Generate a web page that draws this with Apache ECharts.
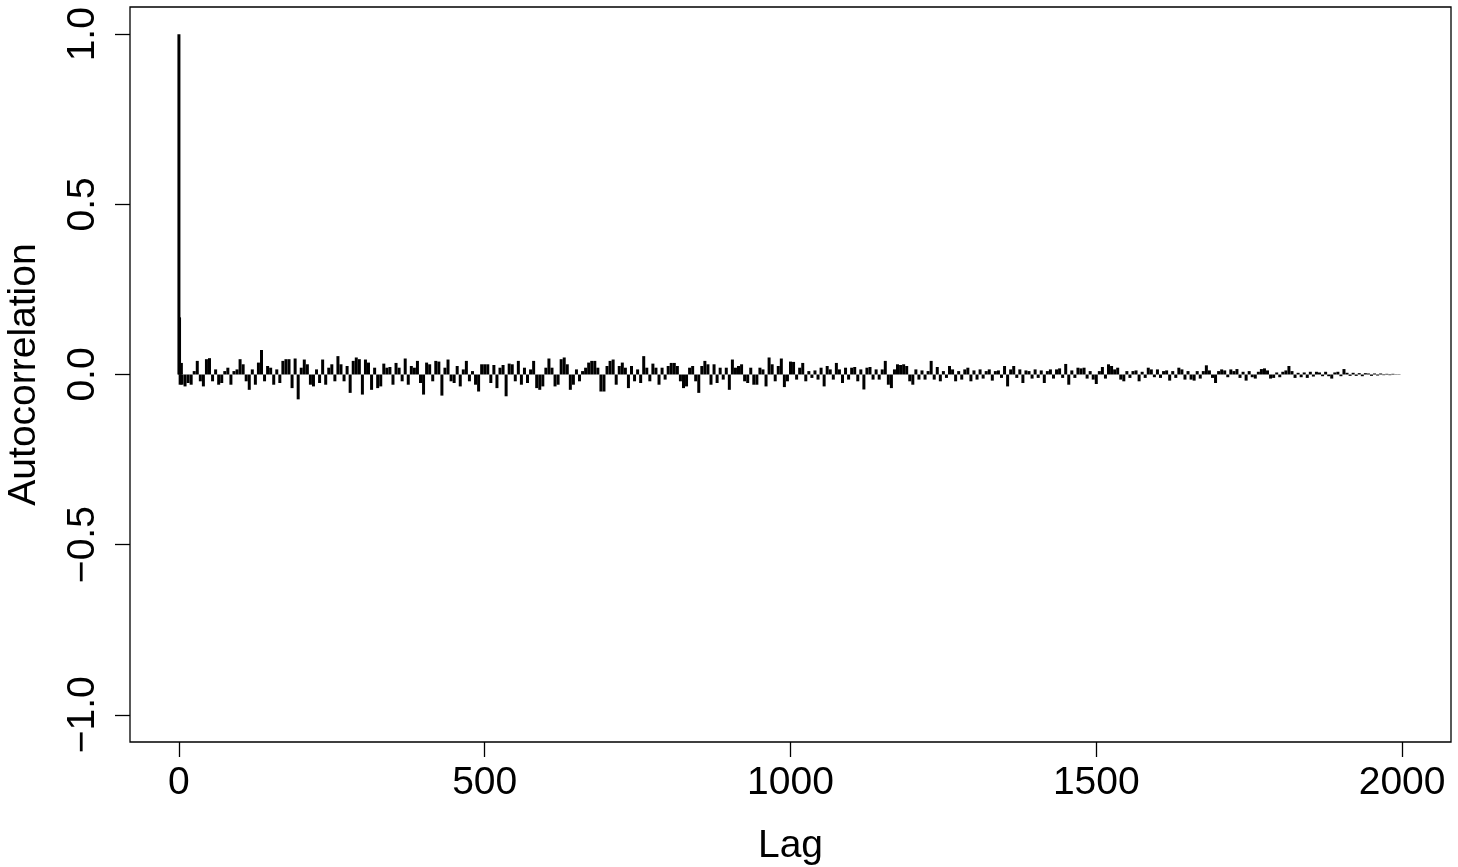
<!DOCTYPE html>
<html>
<head>
<meta charset="utf-8">
<title>Autocorrelation</title>
<script src="https://cdn.jsdelivr.net/npm/echarts@6.0.0/dist/echarts.min.js"></script>
<style>
    html, body { margin: 0; padding: 0; background: #fff; }
    #echart { width: 1458px; height: 867px; }
</style>
</head>
<body>
<div id="echart"></div>
<script>
// first lags, read one by one
var headLags = [0, 1, 2, 3, 4];
var headAcf = [1.0, 0.168, -0.03, 0.005, 0.034];

// lags 5..2000, one reading every 5 lags
var LAG_STEP = 5;
var bodyAcf = [
    // 5 - 175
    -0.03, -0.035, -0.025, -0.03, 0.01, 0.04, -0.02, -0.035, 0.045, 0.048,
    -0.02, 0.015, -0.03, -0.025, 0.01, 0.02, -0.03, 0.01, 0.015, 0.045,
    0.03, -0.02, -0.045, 0.015, -0.03, 0.035, 0.072, -0.02, 0.025, 0.02,
    -0.03, 0.015, -0.025, 0.04, 0.045,
    // 180 - 360
    0.045, -0.04, 0.047, -0.073, 0.02, 0.044, 0.03, -0.03, -0.035, 0.015,
    -0.025, 0.044, -0.03, 0.02, 0.03, -0.02, 0.054, 0.03, -0.02, 0.025,
    -0.054, 0.04, 0.05, 0.045, -0.059, 0.044, 0.035, -0.045, 0.02, -0.04,
    -0.035, 0.032, 0.02, 0.022, -0.03, 0.034, 0.02,
    // 365 - 540
    -0.02, 0.047, -0.03, 0.025, 0.02, 0.04, -0.025, -0.059, 0.035, 0.03,
    -0.02, 0.04, 0.038, -0.062, 0.02, 0.044, -0.02, -0.025, 0.025, -0.035,
    0.015, 0.04, -0.02, 0.01, -0.03, -0.05, 0.03, 0.03, 0.03, -0.025,
    0.028, -0.04, 0.02, 0.028, -0.064, 0.032,
    // 545 - 725
    0.03, -0.02, 0.04, -0.03, 0.02, -0.025, 0.015, 0.04, -0.04, -0.045,
    -0.035, 0.02, 0.047, 0.02, -0.035, -0.03, 0.045, 0.05, 0.03, -0.045,
    -0.03, 0.015, -0.02, 0.01, 0.02, 0.035, 0.04, 0.04, 0.02, -0.05,
    -0.05, 0.025, 0.04, 0.044, -0.03, 0.025, 0.035,
    // 730 - 910
    0.02, -0.04, 0.025, -0.02, 0.015, -0.025, 0.054, 0.02, -0.02, 0.032,
    0.02, -0.03, 0.02, -0.015, 0.025, 0.034, 0.034, 0.025, -0.02, -0.04,
    -0.035, 0.02, 0.025, -0.02, -0.054, 0.025, 0.04, 0.03, -0.03, 0.03,
    -0.025, 0.02, -0.015, 0.02, -0.045, 0.044, 0.02,
    // 915 - 1095
    0.025, 0.03, -0.02, -0.025, 0.02, -0.03, -0.03, 0.02, 0.015, -0.035,
    0.05, 0.03, -0.02, 0.025, 0.047, -0.037, -0.02, 0.038, 0.037, -0.015,
    0.02, 0.034, -0.02, 0.01, -0.01, 0.012, -0.015, 0.02, -0.035, 0.025,
    0.015, -0.015, 0.034, 0.015, -0.025, 0.02, -0.015,
    // 1100 - 1280
    0.02, 0.022, -0.02, 0.015, -0.044, 0.02, 0.022, -0.015, 0.015, -0.015,
    0.015, 0.04, -0.03, -0.04, 0.015, 0.03, 0.028, 0.03, 0.025, -0.02,
    -0.03, 0.015, -0.015, 0.012, -0.015, 0.01, 0.04, -0.015, 0.022, -0.02,
    0.01, -0.01, 0.025, 0.015, -0.02, 0.01, -0.015,
    // 1285 - 1465
    0.015, 0.02, -0.02, 0.012, -0.015, 0.015, -0.012, 0.01, 0.015, -0.018,
    0.01, 0.012, -0.01, 0.025, -0.035, 0.015, 0.025, -0.01, 0.015, -0.025,
    0.012, 0.01, -0.012, 0.015, -0.01, 0.012, -0.025, 0.01, 0.015, -0.012,
    0.015, 0.018, -0.01, 0.031, -0.03, 0.012, -0.01,
    // 1470 - 1650
    0.02, 0.018, 0.02, -0.012, 0.01, -0.015, -0.028, 0.01, 0.022, -0.012,
    0.03, 0.025, 0.015, 0.02, -0.015, -0.02, 0.01, -0.01, 0.01, 0.012,
    -0.02, 0.008, -0.01, 0.02, 0.015, -0.008, 0.015, -0.01, 0.01, 0.012,
    -0.018, 0.01, -0.01, 0.02, 0.015, -0.015, 0.01,
    // 1655 - 1835
    -0.015, -0.018, 0.01, -0.012, 0.01, 0.027, 0.012, -0.01, -0.025, 0.01,
    0.015, 0.012, -0.008, 0.015, 0.01, 0.016, -0.01, 0.008, -0.018, 0.01,
    -0.008, -0.012, 0.008, 0.016, 0.018, 0.012, -0.012, -0.01, 0.006, -0.008,
    0.008, 0.012, 0.025, 0.01, -0.01, 0.005, -0.008,
    // 1840 - 2000
    0.006, -0.01, 0.008, -0.006, 0.008, 0.006, -0.005, 0.008, -0.005, -0.012,
    0.006, 0.008, -0.005, 0.016, 0.005, -0.004, 0.005, -0.004, 0.004, -0.005,
    0.004, 0.003, -0.004, 0.003, -0.003, 0.003, -0.002, 0.002, -0.002, 0.002,
    -0.001, 0.001, 0.0
];

var xTicks = [0, 500, 1000, 1500, 2000];
var yTicks = [-1, -0.5, 0, 0.5, 1];

var FONT = '"Liberation Sans", Arial, Helvetica, sans-serif';

// [lag, acf] pairs
var acfData = [];
for (var i = 0; i < headLags.length; i++) {
    acfData.push([headLags[i], headAcf[i]]);
}
for (var j = 0; j < bodyAcf.length; j++) {
    acfData.push([LAG_STEP * (j + 1), bodyAcf[j]]);
}

var option = {
    animation: false,
    backgroundColor: '#fff',
    grid: {
        left: 130,
        right: 7,
        top: 7,
        bottom: 125,
        containLabel: false,
        outerBoundsMode: 'none',
        show: true,
        borderColor: '#000',
        borderWidth: 1.3,
        backgroundColor: 'transparent'
    },
    xAxis: {
        type: 'value',
        min: -80,
        max: 2080,
        name: 'Lag',
        nameLocation: 'middle',
        nameGap: 85,
        nameTextStyle: { fontFamily: FONT, fontSize: 39, color: '#000' },
        axisLine: { show: false, onZero: false },
        axisTick: {
            show: true,
            inside: false,
            length: 15,
            customValues: xTicks,
            lineStyle: { color: '#000', width: 1.3 }
        },
        axisLabel: {
            show: true,
            margin: 22,
            customValues: xTicks,
            fontFamily: FONT,
            fontSize: 39,
            color: '#000',
            formatter: function (v) {
                return String(v);
            }
        },
        splitLine: { show: false }
    },
    yAxis: {
        type: 'value',
        min: -1.08,
        max: 1.08,
        name: 'Autocorrelation',
        nameLocation: 'middle',
        nameGap: 86,
        nameTextStyle: { fontFamily: FONT, fontSize: 39, color: '#000' },
        axisLine: { show: false, onZero: false },
        axisTick: {
            show: true,
            inside: false,
            length: 15,
            customValues: yTicks,
            lineStyle: { color: '#000', width: 1.3 }
        },
        axisLabel: {
            show: true,
            rotate: 90,
            margin: 27,
            customValues: yTicks,
            fontFamily: FONT,
            fontSize: 39,
            color: '#000',
            formatter: function (v) {
                return v.toFixed(1).replace('-', '\u2212');
            }
        },
        splitLine: { show: false }
    },
    series: [
        {
            // type = "h" style vertical lines
            type: 'bar',
            barWidth: 3,
            itemStyle: { color: '#000' },
            data: acfData
        }
    ]
};

var myChart = echarts.init(document.getElementById("echart"));
myChart.setOption(option);
</script>
</body>
</html>
